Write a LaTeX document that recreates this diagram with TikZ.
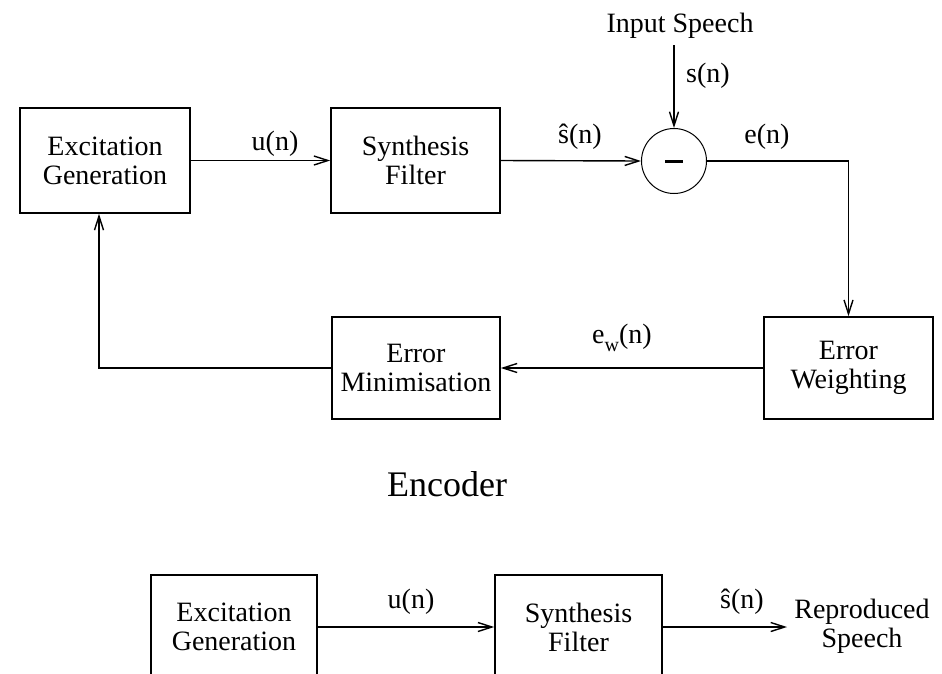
\documentclass[tikz,border=0pt]{standalone}
\usepackage{fontspec}
\setmainfont{Liberation Serif}
\usetikzlibrary{arrows.meta}
\begin{document}
\begin{tikzpicture}[x=1pt,y=-1pt,
  block/.style={draw,line width=1.6pt,inner sep=0pt,minimum height=105pt,
    align=center,font=\fontsize{28}{29}\selectfont},
  lbl/.style={inner sep=0pt,anchor=base,font=\fontsize{28}{29}\selectfont},
  arr/.style={line width=1.4pt,-{Straight Barb[length=14pt,width=9pt,line width=1.4pt]}},
  wire/.style={line width=1.4pt}]
\clip (0,0) rectangle (942,673);

% Encoder: analysis-by-synthesis loop
\node[block,minimum width=170pt] (exc) at (105,160.5) {Excitation\\Generation};
\node[block,minimum width=169pt] (syn) at (415.5,160.5) {Synthesis\\Filter};
\node[draw,circle,line width=1pt,minimum size=65pt,inner sep=0pt] (sum) at (674,161) {};
\draw[line width=3pt] ([xshift=-9pt]sum.center) -- ([xshift=9pt]sum.center);
\node[block,minimum width=168pt,minimum height=102pt] (em) at (416,368) {Error\\Minimisation};
\node[block,minimum width=169pt,minimum height=102pt] (ew) at (848.5,368) {Error\\Weighting};

\node[lbl] (inlbl) at (680,32) {Input Speech};
\coordinate (in) at (674,45);

\draw[arr] (exc.east) -- (syn.west);
\draw[arr] (syn.east) -- (sum.west);
\draw[arr] (in) -- (sum.north);
\draw[arr] (sum.east) -| (ew.north);
\draw[arr] (ew.west) -- (em.east);
\draw[arr] (em.west) -| ([xshift=-6pt]exc.south);

\node[lbl] (un) at (275,150) {u(n)};
\node[lbl] (sn) at (708,82) {s(n)};
\node[lbl] (shat) at (580,143) {\^{s}(n)};
\node[lbl] (en) at (767,143) {e(n)};
\node[lbl] (ewn) at (622,343) {e\raisebox{-0.3em}{\fontsize{20}{20}\selectfont w}(n)};

\node[inner sep=0pt,anchor=base,font=\fontsize{36}{40}\selectfont] (enc) at (447,496) {Encoder};

% Decoder
\node[block,minimum width=166pt,minimum height=104pt] (exc2) at (234,627) {Excitation\\Generation};
\node[block,minimum width=167pt,minimum height=104pt] (syn2) at (578.5,627) {Synthesis\\Filter};
\coordinate (out) at (787,627);
\node[lbl,align=center] (rep) at (862,647) {Reproduced\\Speech};

\draw[arr] (exc2.east) -- (syn2.west);
\draw[arr] (syn2.east) -- (out);

\node[lbl] (un2) at (411,608) {u(n)};
\node[lbl] (shat2) at (742,608) {\^{s}(n)};
\end{tikzpicture}
\end{document}
